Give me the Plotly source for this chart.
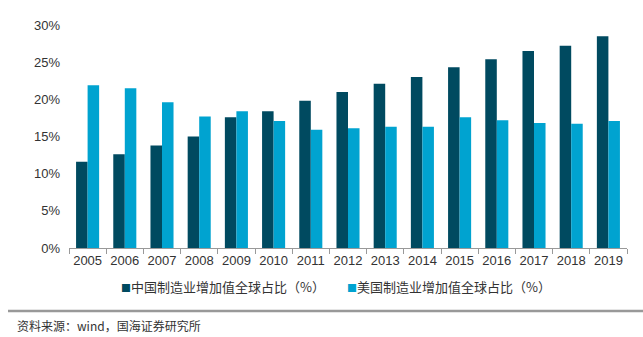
import plotly.graph_objects as go

years = [str(y) for y in range(2005, 2020)]
china = [11.6, 12.6, 13.8, 15.0, 17.6, 18.4, 19.8, 21.0, 22.1, 23.0, 24.3, 25.4, 26.5, 27.2, 28.5]
usa = [21.9, 21.5, 19.6, 17.7, 18.4, 17.1, 15.9, 16.1, 16.3, 16.3, 17.6, 17.2, 16.8, 16.7, 17.1]
name_cn = "中国制造业增加值全球占比（%）"
name_us = "美国制造业增加值全球占比（%）"
color_cn = "#004A60"
color_us = "#00A3D0"
yticks = [0, 5, 10, 15, 20, 25, 30]
source = "资料来源：wind，国海证券研究所"

fig = go.Figure()
fig.add_trace(go.Bar(x=years, y=china, name=name_cn, marker=dict(color=color_cn, line=dict(width=0))))
fig.add_trace(go.Bar(x=years, y=usa, name=name_us, marker=dict(color=color_us, line=dict(width=0))))

fig.update_layout(
    width=643, height=337,
    margin=dict(l=69, r=16, t=25, b=89),
    paper_bgcolor="white", plot_bgcolor="white",
    barmode="group", bargap=0.38, bargroupgap=0,
    font=dict(family="Liberation Sans, Arial, Noto Sans CJK SC", size=13, color="#333333"),
    showlegend=False,
    xaxis=dict(type="category", showgrid=False, showline=True, linecolor="#999999", linewidth=1,
               ticks="outside", tickson="boundaries", ticklen=5, tickcolor="#999999",
               tickangle=0, tickfont=dict(size=13, color="#333333")),
    yaxis=dict(range=[0, 30], tickvals=yticks, ticktext=[f"{v}%" for v in yticks],
               showgrid=False, showline=False, zeroline=False, ticks="", ticklabelstandoff=8,
               tickfont=dict(size=13, color="#333333")),
)

# legend rendered as text entries
for name, color, px in [(name_cn, color_cn, 119), (name_us, color_us, 345)]:
    fig.add_annotation(
        text=f"<span style='color:{color};font-size:10px'>■</span>{name}",
        xref="paper", yref="paper", x=(px - 69) / 558, y=(248 - 286.5) / 223,
        xanchor="left", yanchor="middle", showarrow=False,
        font=dict(family="Noto Sans CJK SC", size=13, color="#333333"))

fig.add_shape(type="line", xref="paper", yref="paper",
              x0=(8 - 69) / 558, x1=(643 - 69) / 558, y0=(248 - 311) / 223, y1=(248 - 311) / 223,
              line=dict(color="#999999", width=2.5))
fig.add_annotation(text=source, xref="paper", yref="paper",
                   x=(15 - 69) / 558, y=(248 - 325) / 223, xanchor="left", yanchor="middle",
                   showarrow=False, font=dict(family="Noto Sans CJK SC", size=12, color="#333333"))

fig.write_html("out.html")
